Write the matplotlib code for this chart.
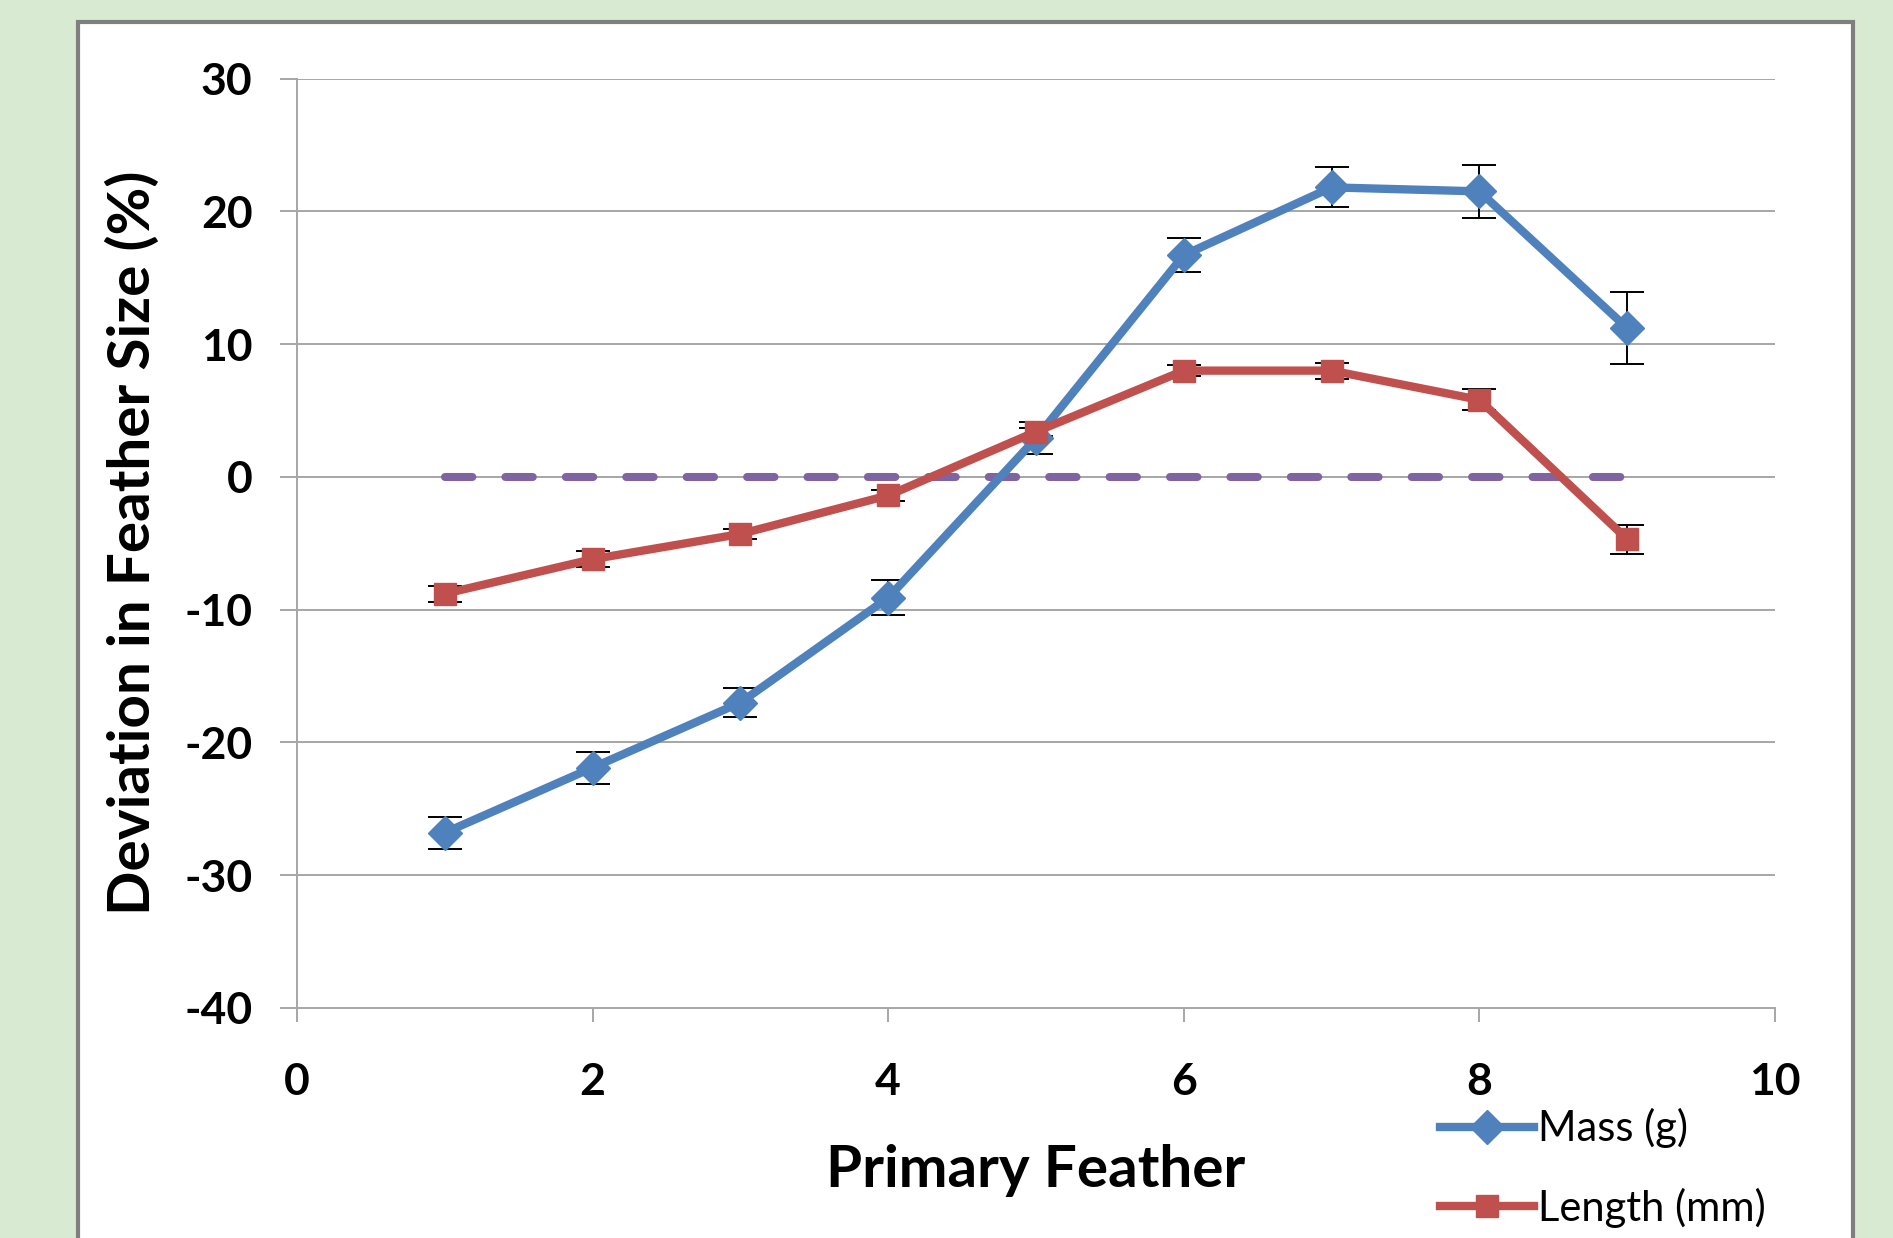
import matplotlib
matplotlib.use("Agg")
import matplotlib.pyplot as plt
from matplotlib.patches import Rectangle
from matplotlib.lines import Line2D

plt.rcParams["axes.unicode_minus"] = False

# ---- data ----
feather = [1, 2, 3, 4, 5, 6, 7, 8, 9]
mass = [-26.8, -21.9, -17.0, -9.1, 2.9, 16.7, 21.8, 21.5, 11.2]
mass_err = [1.2, 1.2, 1.1, 1.3, 1.2, 1.3, 1.5, 2.0, 2.7]
length = [-8.8, -6.2, -4.3, -1.4, 3.4, 8.0, 8.0, 5.8, -4.7]
length_err = [0.6, 0.6, 0.4, 0.4, 0.3, 0.4, 0.6, 0.8, 1.1]
baseline_x = [1, 9]
baseline_y = [0, 0]
xticks = [0, 2, 4, 6, 8, 10]
yticks = [-40, -30, -20, -10, 0, 10, 20, 30]

W, H = 1893, 1238
fig = plt.figure(figsize=(W / 100, H / 100), dpi=100)
fig.patch.set_facecolor("#D9EAD3")

# white chart panel with grey border
panel = Rectangle((78 / W, 1 - 1300 / H), (1853 - 78) / W, (1300 - 22) / H,
                  transform=fig.transFigure, facecolor="white",
                  edgecolor="#7F7F7F", linewidth=3, zorder=-10)
fig.patches.append(panel)

left, right, top, bottom = 297, 1775, 78.5, 1008
ax = fig.add_axes([left / W, 1 - bottom / H, (right - left) / W, (bottom - top) / H])
ax.set_facecolor("none")
ax.set_zorder(5)

font = "Lato"
grid_c = "#A6A6A6"

ax.set_xlim(0, 10)
ax.set_ylim(-40, 30)
ax.set_xticks(xticks)
ax.set_yticks(yticks)
for y in yticks:
    if y != -40:
        ax.axhline(y, color=grid_c, lw=1.4, zorder=1)

for s in ["top", "right"]:
    ax.spines[s].set_visible(False)
for s in ["left", "bottom"]:
    ax.spines[s].set_color(grid_c)
    ax.spines[s].set_linewidth(1.4)

ax.tick_params(axis="both", direction="out", color=grid_c, width=1.4)
ax.tick_params(axis="y", length=12, pad=20)
ax.tick_params(axis="x", length=10, pad=29)
for lab in ax.get_xticklabels() + ax.get_yticklabels():
    lab.set_fontfamily(font)
    lab.set_fontweight("bold")
    lab.set_fontsize(32)

# baseline dashed
ax.plot(baseline_x, baseline_y, color="#8064A2", lw=5.8, linestyle=(0, (3.4, 4.1)),
        dash_capstyle="round", zorder=2)

blue = "#4F81BD"
red = "#C0504D"
ax.errorbar(feather, mass, yerr=mass_err, fmt="none", ecolor="black",
            elinewidth=1.4, capsize=12, capthick=1.4, zorder=3)
ax.errorbar(feather, length, yerr=length_err, fmt="none", ecolor="black",
            elinewidth=1.4, capsize=12, capthick=1.4, zorder=3)
ax.plot(feather, mass, color=blue, lw=6, marker="D", ms=17, zorder=4)
ax.plot(feather, length, color=red, lw=6, marker="s", ms=15.5, zorder=4)

ax.set_xlabel("Primary Feather", fontfamily=font, fontweight="bold", fontsize=42,
              labelpad=30)
ax.set_ylabel("Deviation in Feather Size (%)", fontfamily=font, fontweight="bold",
              fontsize=42, labelpad=18)

handles = [Line2D([], [], color=blue, lw=6, marker="D", ms=17),
           Line2D([], [], color=red, lw=6, marker="s", ms=15.5)]
fig.legend(handles, ["Mass (g)", "Length (mm)"], loc="upper left",
           bbox_to_anchor=(1440 / W, 1 - 1108 / H), frameon=False,
           prop={"family": font, "size": 30}, handlelength=2.25, handletextpad=0.1,
           labelspacing=0.95, borderpad=0, borderaxespad=0)

fig.savefig("out.png", dpi=100, facecolor=fig.get_facecolor())
